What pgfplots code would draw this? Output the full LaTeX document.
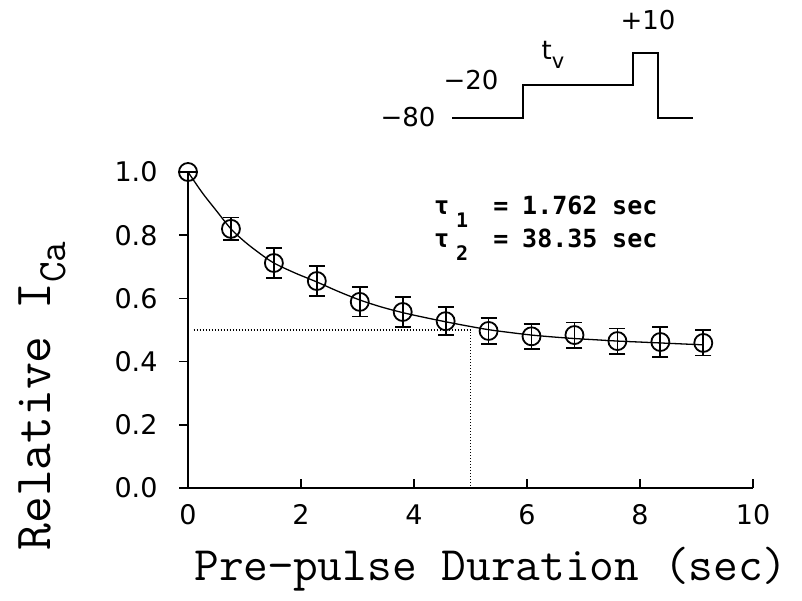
\documentclass[border=0pt]{standalone}
\usepackage{fontspec}
\usepackage{pgfplots}
\pgfplotsset{compat=1.18}
\newfontfamily\tickfont{DejaVu Sans}
\newfontfamily\labfont{Latin Modern Mono}
\newfontfamily\taufont{DejaVu Sans Mono}
\begin{document}
\begin{tikzpicture}[x=1pt,y=1pt]
\useasboundingbox (0,0) rectangle (802,600);
\begin{axis}[
  at={(188pt,112pt)}, anchor=south west,
  scale only axis, width=565pt, height=316pt,
  xmin=0, xmax=10, ymin=0, ymax=1.0,
  axis lines*=left,
  axis line style={line width=1.8pt},
  clip=false,
  xtick={0,2,4,6,8,10},
  ytick={0,0.2,0.4,0.6,0.8,1.0},
  xtick align=inside, ytick align=outside,
  major tick length=9pt,
  tick style={line width=1.5pt, black},
  /pgf/number format/assume math mode=true,
  tick label style={font=\tickfont\fontsize{27}{32}\selectfont},
  yticklabel style={/pgf/number format/fixed, /pgf/number format/fixed zerofill, /pgf/number format/precision=1, xshift=-18pt},
  xticklabel style={yshift=-13pt},
]
% fitted curve
\addplot[black, line width=1.3pt, smooth] coordinates {
(0,1.0)(0.25,0.935)(0.5,0.878)(0.76,0.820)(1.0,0.780)(1.25,0.745)(1.52,0.712)
(1.9,0.680)(2.28,0.652)(2.66,0.622)(3.04,0.595)(3.42,0.573)(3.8,0.555)
(4.18,0.540)(4.56,0.526)(4.94,0.513)(5.32,0.501)(5.7,0.492)(6.08,0.484)
(6.46,0.478)(6.84,0.473)(7.22,0.469)(7.6,0.465)(7.98,0.462)(8.36,0.459)
(8.74,0.456)(9.12,0.453)};
% dotted half-time guide
\addplot[black, line width=1.3pt, dash pattern=on 1.3pt off 1.7pt] coordinates {(0.1,0.5)(5,0.5)(5,0)};
% data with error bars
\addplot[black, only marks, mark=o, mark size=9pt, mark options={line width=1.8pt},
  error bars/.cd, y dir=both, y explicit,
  error bar style={line width=1.8pt},
  error mark options={line width=1.8pt, mark size=8pt, rotate=90}]
  table[x=x, y=y, y error=e] {
x y e
0 1.000 0
0.76 0.820 0.036
1.52 0.712 0.047
2.28 0.655 0.047
3.04 0.589 0.046
3.80 0.557 0.047
4.56 0.528 0.045
5.32 0.497 0.041
6.08 0.480 0.040
6.84 0.484 0.040
7.60 0.465 0.040
8.36 0.462 0.047
9.12 0.459 0.040
};
\end{axis}
% axis titles
\node[anchor=base, font=\labfont\fontsize{48}{56}\selectfont] at (491,20) {Pre−pulse Duration (sec)};
\node[rotate=90, anchor=base west, font=\labfont\fontsize{52}{60}\selectfont] at (50,46) {Relative I\raisebox{-15pt}{\fontsize{40}{46}\selectfont Ca}};
% tau values
\begin{scope}[every node/.style={font=\taufont\bfseries\fontsize{25}{30}\selectfont, inner sep=0pt}]
\node[anchor=base west] at (434,385) {τ};
\node[anchor=base west, font=\taufont\bfseries\fontsize{20}{24}\selectfont] at (456,372) {1};
\node[anchor=base] at (501,385) {=};
\node[anchor=base west] at (522,385) {1.762};
\node[anchor=base west] at (612,385) {sec};
\node[anchor=base west] at (434,352) {τ};
\node[anchor=base west, font=\taufont\bfseries\fontsize{20}{24}\selectfont] at (456,339) {2};
\node[anchor=base] at (501,352) {=};
\node[anchor=base west] at (522,352) {38.35};
\node[anchor=base west] at (612,352) {sec};
\end{scope}
% voltage protocol inset
\draw[line width=1.8pt] (452,482)--(523,482)--(523,515)--(633,515)--(633,547)--(658,547)--(658,482)--(693,482);
\node[font=\tickfont\fontsize{26}{30}\selectfont] at (408,483) {−80};
\node[font=\tickfont\fontsize{26}{30}\selectfont] at (471,520) {−20};
\node[font=\tickfont\fontsize{26}{30}\selectfont] at (553,545) {t\raisebox{-9pt}{\fontsize{21}{24}\selectfont v}};
\node[font=\tickfont\fontsize{26}{30}\selectfont] at (648,580) {+10};
\end{tikzpicture}
\end{document}
